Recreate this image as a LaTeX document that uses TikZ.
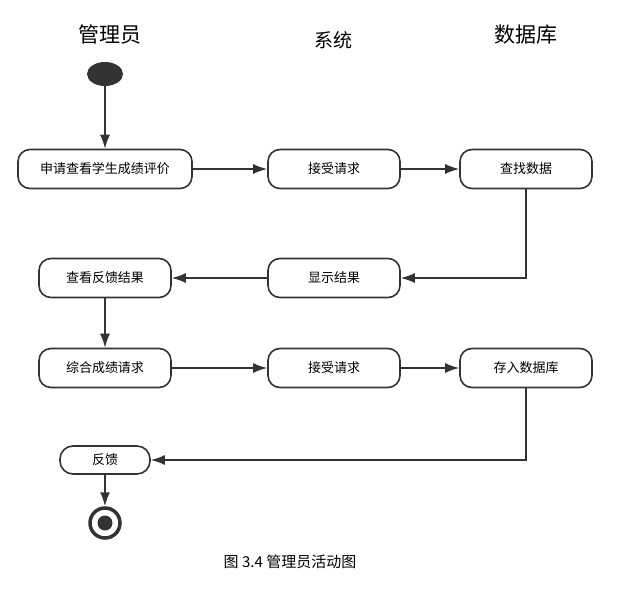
\documentclass[tikz,border=0pt]{standalone}
\usepackage{fontspec}
\newfontfamily\cjk{Noto Sans CJK SC}
\usetikzlibrary{positioning,shapes.geometric,arrows.meta}
\tikzset{
  act/.style={draw=black!80, line width=1.6pt, rounded corners=12pt, minimum width=132pt, minimum height=39pt, font=\cjk\fontsize{13}{15}\selectfont},
  flow/.style={draw=black!80, line width=1.6pt, -{Latex[length=14pt,width=10pt]}},
}
\begin{document}
\begin{tikzpicture}[x=1pt,y=-1pt]
        \useasboundingbox (0,0) rectangle (627,616);
        \node[font=\cjk\fontsize{21}{24}\selectfont] (admin) at (110,35) {管理员};
        \node[font=\cjk\fontsize{19}{22}\selectfont] (sys) at (333,40) {系统};
        \node[font=\cjk\fontsize{21}{24}\selectfont] (db) at (526,35) {数据库};
        \node[ellipse, fill=black!80, minimum width=36pt, minimum height=24pt, inner sep=0pt] (start) at (105,74) {};
        \node[act, minimum width=174pt] (apply) at (105,169) {申请查看学生成绩评价};
        \node[act] (recv) at (334,169) {接受请求};
        \node[act] (find) at (526,169) {查找数据};
        \node[act] (show) at (334,278) {显示结果};
        \node[act] (view) at (105,278) {查看反馈结果};
        \node[act] (sum) at (105,368) {综合成绩请求};
        \node[act] (recv2) at (334,368) {接受请求};
        \node[act] (save) at (526,368) {存入数据库};
        \node[act, minimum width=90pt, minimum height=28pt, rounded corners=13pt] (back) at (105,460) {反馈};
        \node[circle, draw=black!80, line width=3.5pt, minimum size=30pt, inner sep=0pt] (stop) at (105,523) {};
        \node[circle, fill=black!80, minimum size=15pt, inner sep=0pt] at (stop) {};
        \draw[flow] (start) -- (apply);
        \draw[flow] (apply) -- (recv);
        \draw[flow] (recv) -- (find);
        \draw[flow] (find.south) |- (show.east);
        \draw[flow] (show) -- (view);
        \draw[flow] (view) -- (sum);
        \draw[flow] (sum) -- (recv2);
        \draw[flow] (recv2) -- (save);
        \draw[flow] (save.south) |- (back.east);
        \draw[flow] (back) -- (stop);
        \node[font=\cjk\fontsize{15}{17}\selectfont] (cap) at (290,562) {图 3.4 管理员活动图};
\end{tikzpicture}
\end{document}
